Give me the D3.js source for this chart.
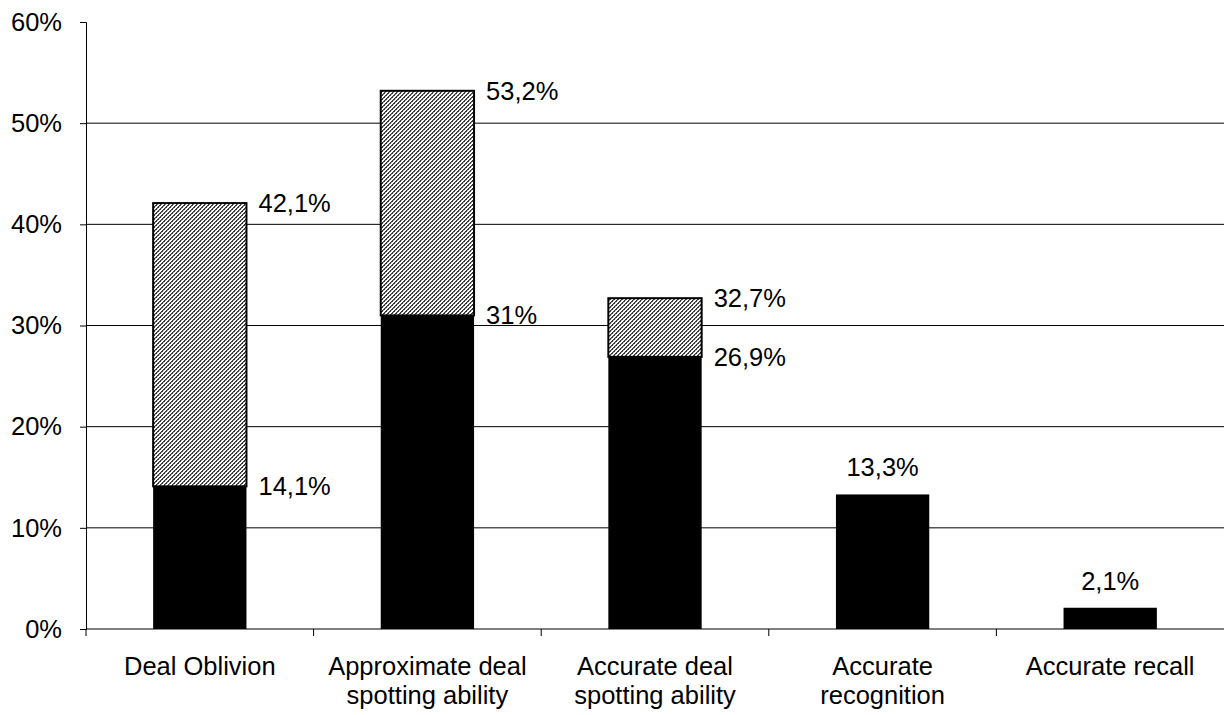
<!DOCTYPE html>
<html><head><meta charset="utf-8">
<script src="https://cdn.jsdelivr.net/npm/d3@7"></script>
<style>body{margin:0;background:#fff;} text{font-family:"Liberation Sans",Arial,sans-serif;}</style>
</head><body>
<svg id="c" width="1224" height="715"></svg>
<script>
const categories = [["Deal Oblivion"],["Approximate deal","spotting ability"],["Accurate deal","spotting ability"],["Accurate","recognition"],["Accurate recall"]];
const baseValues = [14.1, 31, 26.9, 13.3, 2.1];
const totalValues = [42.1, 53.2, 32.7, null, null];
const baseLabels = ["14,1%","31%","26,9%","13,3%","2,1%"];
const totalLabels = ["42,1%","53,2%","32,7%",null,null];
const yTicks = [0,10,20,30,40,50,60];

const FS = 25.5;
const svg = d3.select("#c");
const m = {l:86, r:0, t:22, b:86};
const W = 1224, H = 715;
const x = d3.scaleBand().domain(d3.range(categories.length)).range([m.l, W-m.r]).paddingInner(0.59).paddingOuter(0.295);
const xb = d3.scaleBand().domain(d3.range(categories.length)).range([m.l, W-m.r]);
const y = d3.scaleLinear().domain([0,60]).range([H-m.b, m.t]);

const defs = svg.append("defs");
const pat = defs.append("pattern").attr("id","hatch").attr("patternUnits","userSpaceOnUse").attr("width",4).attr("height",4);
pat.append("rect").attr("width",4).attr("height",4).attr("fill","#ffffff");
for (let px=0; px<4; px++) for (let py=0; py<4; py++) {
  const k = (px+py)%4;
  if (k===0 || (k===1 && (px%2===0))) pat.append("rect").attr("x",px).attr("y",py).attr("width",1).attr("height",1).attr("fill","#3a3a3a");
  else if (k===1) pat.append("rect").attr("x",px).attr("y",py).attr("width",1).attr("height",1).attr("fill","#8a8a8a");
}

// gridlines
svg.append("g").selectAll("line").data(yTicks.filter(t=>t>0 && t<60)).join("line")
  .attr("x1",m.l).attr("x2",W).attr("y1",d=>y(d)).attr("y2",d=>y(d))
  .attr("stroke","#000").attr("stroke-width",1);

// y axis
const ya = svg.append("g").attr("transform",`translate(${m.l},0)`)
  .call(d3.axisLeft(y).tickValues(yTicks).tickFormat(d=>d+"%").tickSize(6).tickPadding(18));
ya.select(".domain").attr("stroke","#000");
ya.selectAll("text").attr("font-size",FS).attr("fill","#000").style("font-family","Liberation Sans, Arial, sans-serif");

// x axis
svg.append("line").attr("x1",m.l).attr("x2",W).attr("y1",y(0)).attr("y2",y(0)).attr("stroke","#000");
svg.append("g").selectAll("line").data(d3.range(categories.length)).join("line")
  .attr("x1",d=>xb(d)).attr("x2",d=>xb(d)).attr("y1",y(0)).attr("y2",y(0)+7).attr("stroke","#000");

// hatched total segments
const idx = d3.range(categories.length);
svg.append("g").selectAll("rect").data(idx.filter(i=>totalValues[i]!=null)).join("rect")
  .attr("x",i=>x(i)).attr("width",x.bandwidth())
  .attr("y",i=>y(totalValues[i])).attr("height",i=>y(baseValues[i])-y(totalValues[i]))
  .attr("fill","url(#hatch)").attr("stroke","#000").attr("stroke-width",2);

// black base segments
svg.append("g").selectAll("rect").data(idx).join("rect")
  .attr("x",i=>x(i)).attr("width",x.bandwidth())
  .attr("y",i=>y(baseValues[i])).attr("height",i=>y(0)-y(baseValues[i]))
  .attr("fill","#000");

// labels
const lg = svg.append("g").attr("font-size",FS).attr("fill","#000");
idx.forEach(i=>{
  if (totalValues[i]!=null) {
    lg.append("text").attr("x",x(i)+x.bandwidth()+12).attr("y",y(totalValues[i])).attr("dy","0.35em").text(totalLabels[i]);
    lg.append("text").attr("x",x(i)+x.bandwidth()+12).attr("y",y(baseValues[i])).attr("dy","0.35em").text(baseLabels[i]);
  } else {
    lg.append("text").attr("x",x(i)+x.bandwidth()/2).attr("y",y(baseValues[i])-18).attr("text-anchor","middle").text(baseLabels[i]);
  }
});

// category labels
const cg = svg.append("g").attr("font-size",FS).attr("fill","#000").attr("text-anchor","middle");
categories.forEach((lines,i)=>{
  const t = cg.append("text").attr("x",xb(i)+xb.bandwidth()/2).attr("y",y(0)+46);
  lines.forEach((l,j)=>t.append("tspan").attr("x",xb(i)+xb.bandwidth()/2).attr("dy",j?29:0).text(l));
});
</script>
</body></html>
